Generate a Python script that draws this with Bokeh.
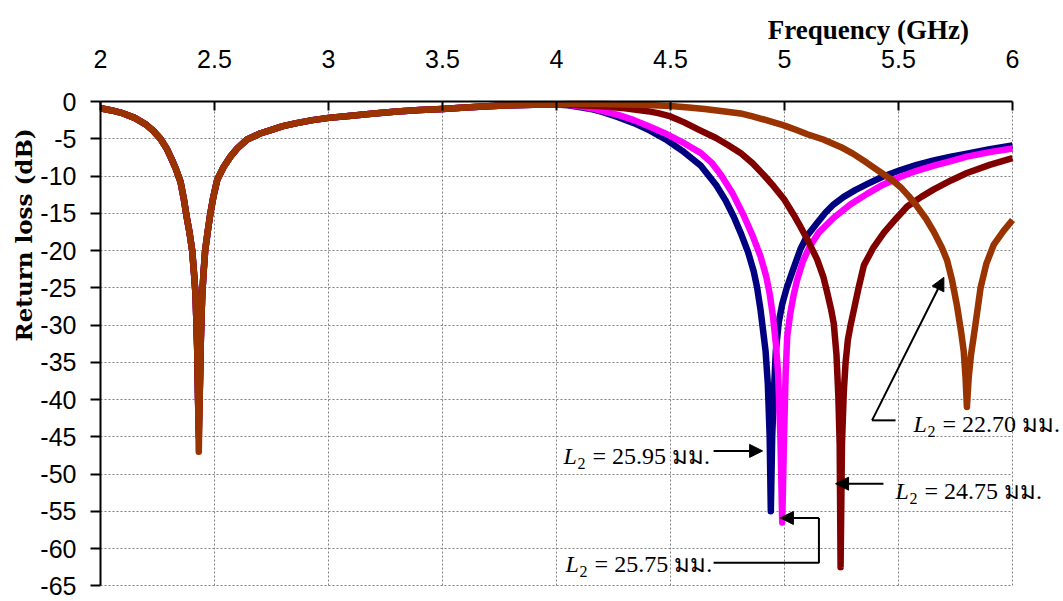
from bokeh.plotting import figure
from bokeh.models import (Label, Arrow, NormalHead, FixedTicker, LinearAxis,
                          Grid, Range1d)
from bokeh.embed import file_html
from bokeh.resources import INLINE

# ---------------- data ----------------
x_ticks = [2, 2.5, 3, 3.5, 4, 4.5, 5, 5.5, 6]
x_tick_labels = ["2", "2.5", "3", "3.5", "4", "4.5", "5", "5.5", "6"]
y_ticks = [0, -5, -10, -15, -20, -25, -30, -35, -40, -45, -50, -55, -60, -65]
y_tick_labels = ["0", "-5", "-10", "-15", "-20", "-25", "-30", "-35", "-40",
                 "-45", "-50", "-55", "-60", "-65"]
x_limits = (2, 6)
y_limits = (-65, 0)

# common lower band (left wall of the first resonance)
band_left_f = [2.0, 2.05, 2.1, 2.15, 2.2, 2.23, 2.263, 2.29, 2.31, 2.33, 2.351,
               2.365, 2.378, 2.39, 2.402, 2.41, 2.417, 2.424, 2.428]
band_left_db = [-0.9, -1.2, -1.6, -2.2, -3.1, -3.9, -5.0, -6.3, -7.6, -9.0,
                -10.8, -13.0, -15.5, -17.5, -20.0, -23.0, -26.0, -33.0, -40.0]
# common right wall of the first resonance up to 4 GHz
band_right_f = [2.436, 2.44, 2.446, 2.452, 2.459, 2.47, 2.482, 2.495, 2.512,
                2.54, 2.57, 2.6, 2.643, 2.7, 2.75, 2.8, 2.86, 2.93, 3.0, 3.1,
                3.2, 3.3, 3.4, 3.5, 3.6, 3.7, 3.8, 3.9, 4.0]
band_right_db = [-38.0, -32.0, -26.0, -23.0, -20.0, -17.5, -15.0, -12.8, -10.5,
                 -8.8, -7.4, -6.3, -5.1, -4.3, -3.8, -3.3, -2.9, -2.5, -2.2,
                 -1.9, -1.6, -1.35, -1.15, -1.0, -0.8, -0.65, -0.5, -0.42, -0.4]
dip1_f = 2.431

# L2 = 25.95 mm (navy)
navy_dip1_db = -44.0
navy_f = [4.05, 4.1, 4.15, 4.2, 4.27, 4.34, 4.41, 4.485, 4.56, 4.632, 4.70,
          4.74, 4.778, 4.81, 4.84, 4.865, 4.88, 4.895, 4.907, 4.917, 4.927,
          4.935, 4.94, 4.946, 4.955, 4.962, 4.975, 4.99, 5.01, 5.035, 5.07,
          5.1, 5.143, 5.18, 5.216, 5.26, 5.31, 5.362, 5.43, 5.509, 5.58, 5.655,
          5.73, 5.8, 5.9, 6.0]
navy_db = [-0.5, -0.75, -1.0, -1.4, -2.1, -2.9, -3.9, -5.2, -6.8, -8.6, -11.2,
           -13.2, -15.5, -17.8, -20.2, -22.8, -25.0, -28.0, -31.0, -33.5, -38.0,
           -45.0, -55.0, -45.0, -38.0, -33.5, -29.6, -27.2, -25.0, -22.8, -19.8,
           -18.0, -16.3, -14.9, -13.8, -12.8, -11.9, -11.1, -10.1, -9.2, -8.5,
           -7.9, -7.4, -7.0, -6.4, -5.9]

# L2 = 25.75 mm (magenta)
mag_dip1_db = -42.0
mag_f = [4.05, 4.1, 4.15, 4.2, 4.27, 4.34, 4.41, 4.485, 4.56, 4.632, 4.68, 4.72,
         4.77, 4.821, 4.86, 4.895, 4.92, 4.935, 4.95, 4.962, 4.972, 4.982, 4.99,
         4.998, 5.005, 5.012, 5.025, 5.04, 5.055, 5.08, 5.11, 5.15, 5.216,
         5.29, 5.362, 5.43, 5.509, 5.58, 5.655, 5.73, 5.8, 5.9, 6.0]
mag_db = [-0.45, -0.65, -0.9, -1.25, -1.8, -2.5, -3.4, -4.4, -5.6, -6.9, -8.2,
          -9.8, -12.2, -15.3, -18.0, -20.8, -23.5, -25.8, -29.0, -32.5, -36.5,
          -45.0, -56.5, -45.0, -36.5, -31.5, -28.5, -26.0, -24.0, -21.5, -19.5,
          -17.6, -15.6, -13.8, -12.4, -11.2, -10.1, -9.3, -8.6, -8.0, -7.4,
          -6.8, -6.3]

# L2 = 24.75 mm (dark red)
red_dip1_db = -45.0
red_f = [4.05, 4.1, 4.2, 4.3, 4.4, 4.45, 4.5, 4.56, 4.632, 4.7, 4.75, 4.807,
         4.86, 4.91, 4.953, 5.0, 5.04, 5.07, 5.105, 5.143, 5.17, 5.187, 5.205,
         5.216, 5.228, 5.236, 5.242, 5.246, 5.252, 5.26, 5.268, 5.278, 5.29,
         5.304, 5.325, 5.348, 5.39, 5.436, 5.49, 5.538, 5.6, 5.655, 5.73, 5.8,
         5.9, 6.0]
red_db = [-0.42, -0.5, -0.65, -0.9, -1.3, -1.6, -2.0, -2.8, -3.9, -4.9, -5.8,
          -6.9, -8.3, -9.9, -11.4, -13.2, -15.2, -16.8, -18.8, -21.2, -23.5,
          -25.6, -28.0, -29.8, -34.0, -39.4, -46.0, -62.5, -46.0, -39.0, -35.0,
          -32.0, -30.0, -28.0, -25.0, -22.0, -19.6, -17.6, -15.7, -14.1, -12.8,
          -11.8, -10.6, -9.6, -8.5, -7.6]

# L2 = 22.70 mm (brown)
brown_dip1_db = -47.0
brown_f = [4.05, 4.2, 4.368, 4.5, 4.58, 4.65, 4.73, 4.807, 4.86, 4.92, 4.997,
           5.05, 5.1, 5.17, 5.246, 5.3, 5.36, 5.421, 5.47, 5.509, 5.545, 5.582,
           5.62, 5.655, 5.69, 5.713, 5.735, 5.757, 5.775, 5.786, 5.794, 5.8,
           5.808, 5.818, 5.83, 5.845, 5.86, 5.885, 5.918, 5.96, 6.0]
brown_db = [-0.35, -0.35, -0.45, -0.6, -0.8, -1.0, -1.3, -1.6, -2.0, -2.5, -3.2,
            -3.8, -4.4, -5.1, -6.1, -7.0, -8.2, -9.5, -10.5, -11.5, -12.7,
            -14.1, -15.7, -17.5, -19.6, -21.3, -24.0, -27.5, -31.0, -33.5,
            -37.0, -41.0, -37.0, -34.0, -31.5, -28.3, -25.0, -21.8, -19.2,
            -17.4, -15.9]

series = [
    ("L2 = 25.95", "#000080", navy_dip1_db, navy_f, navy_db),
    ("L2 = 25.75", "#FF00FF", mag_dip1_db, mag_f, mag_db),
    ("L2 = 24.75", "#800000", red_dip1_db, red_f, red_db),
    ("L2 = 22.70", "#993300", brown_dip1_db, brown_f, brown_db),
]

# annotation texts and their anchor positions (data coordinates)
ann_values = ["25.95", "24.75", "25.75", "22.70"]
ann_text_pos = [(4.031, -47.6), (5.487, -52.3), (4.04, -62.1), (5.566, -43.3)]

# ---------------- figure ----------------
# The frame fills the whole canvas; the axes sit at fixed data positions so
# that the titles and annotations outside the data box are not clipped.
PX_PER_GHZ = 228.0
PX_PER_DB = 7.45
W, H = 1063, 601
LEFT_PX, TOP_PX = 100, 101
x_lo = x_limits[0] - LEFT_PX / PX_PER_GHZ
x_hi = x_lo + W / PX_PER_GHZ
y_hi = y_limits[1] + TOP_PX / PX_PER_DB
y_lo = y_hi - H / PX_PER_DB

p = figure(width=W, height=H, x_range=Range1d(x_lo, x_hi),
           y_range=Range1d(y_lo, y_hi), x_axis_type=None, y_axis_type=None,
           output_backend="svg", toolbar_location=None,
           min_border=0, min_border_left=0, min_border_right=0,
           min_border_top=0, min_border_bottom=0)
p.outline_line_color = None
p.background_fill_color = "white"
p.border_fill_color = "white"

# grid
xgrid = Grid(dimension=0, ticker=FixedTicker(ticks=x_ticks), bounds=x_limits,
             cross_bounds=y_limits)
ygrid = Grid(dimension=1, ticker=FixedTicker(ticks=y_ticks), bounds=y_limits,
             cross_bounds=x_limits)
for g in (xgrid, ygrid):
    g.grid_line_color = "#808080"
    g.grid_line_dash = "2 2"
    g.grid_line_width = 1
    p.add_layout(g)

for name, color, d1, fu, du in series:
    f = band_left_f + [dip1_f] + band_right_f + fu
    d = band_left_db + [d1] + band_right_db + du
    p.line(f, d, line_color=color, line_width=6.5, line_join="round")

# axes
xa = LinearAxis(fixed_location=y_limits[1], bounds=x_limits,
                ticker=FixedTicker(ticks=x_ticks))
xa.major_label_overrides = {t: l for t, l in zip(x_ticks, x_tick_labels)}
xa.major_tick_in = 9
xa.major_tick_out = 0
xa.minor_tick_in = 0
xa.minor_tick_out = 0
xa.axis_line_width = 2
xa.axis_line_color = "black"
xa.major_tick_line_width = 2
xa.major_label_text_font = "Liberation Sans"
xa.major_label_text_font_size = "25px"
xa.major_label_text_color = "black"
xa.major_label_standoff = 34
p.add_layout(xa, "above")

ya = LinearAxis(fixed_location=x_limits[0], bounds=y_limits,
                ticker=FixedTicker(ticks=y_ticks))
ya.major_label_overrides = {t: l for t, l in zip(y_ticks, y_tick_labels)}
ya.major_tick_in = 0
ya.major_tick_out = 10
ya.minor_tick_in = 0
ya.minor_tick_out = 0
ya.axis_line_width = 2
ya.axis_line_color = "black"
ya.major_tick_line_width = 2
ya.major_label_text_font = "Liberation Sans"
ya.major_label_text_font_size = "25px"
ya.major_label_text_color = "black"
ya.major_label_standoff = 14
p.add_layout(ya, "left")

# axis titles
p.add_layout(Label(x=5.368, y=9.6, text="Frequency (GHz)", text_align="center",
                   text_baseline="alphabetic", text_font="Liberation Serif",
                   text_font_style="bold", text_font_size="27px",
                   text_color="black"))
p.add_layout(Label(x=1.662, y=-17.9, text="Return loss (dB)", angle=1.5708,
                   text_align="center", text_baseline="middle",
                   text_font="DejaVu Serif", text_font_style="bold",
                   text_font_size="23px", text_color="black"))

# annotation labels: italic L, subscript 2, then value
for val, (tx, ty) in zip(ann_values, ann_text_pos):
    p.add_layout(Label(x=tx, y=ty, text="L", text_font="Liberation Serif",
                       text_font_style="italic", text_font_size="24px",
                       text_baseline="alphabetic", text_align="left",
                       text_color="black"))
    p.add_layout(Label(x=tx, y=ty, x_offset=14, y_offset=-7, text="2",
                       text_font="Liberation Serif", text_font_size="16px",
                       text_baseline="alphabetic", text_align="left",
                       text_color="black"))
    p.add_layout(Label(x=tx, y=ty, x_offset=29, text="= " + val + " มม.",
                       text_font="Liberation Serif", text_font_size="24px",
                       text_baseline="alphabetic", text_align="left",
                       text_color="black"))

# arrows / connectors
head = dict(size=13, fill_color="black", line_color="black")
# 25.95
p.add_layout(Arrow(end=NormalHead(**head), x_start=4.689, y_start=-46.9,
                   x_end=4.904, y_end=-46.9, line_width=2))
# 24.75
p.add_layout(Arrow(end=NormalHead(**head), x_start=5.434, y_start=-51.3,
                   x_end=5.224, y_end=-51.3, line_width=2))
# 25.75
p.line([4.689, 5.151, 5.151], [-61.9, -61.9, -55.9], line_color="black",
       line_width=2)
p.add_layout(Arrow(end=NormalHead(**head), x_start=5.151, y_start=-55.9,
                   x_end=4.982, y_end=-55.9, line_width=2))
# 22.70
p.line([5.487, 5.384], [-42.8, -42.8], line_color="black", line_width=2)
p.add_layout(Arrow(end=NormalHead(**head), x_start=5.384, y_start=-42.8,
                   x_end=5.699, y_end=-23.6, line_width=2))

open("out.html", "w").write(file_html(p, INLINE))
